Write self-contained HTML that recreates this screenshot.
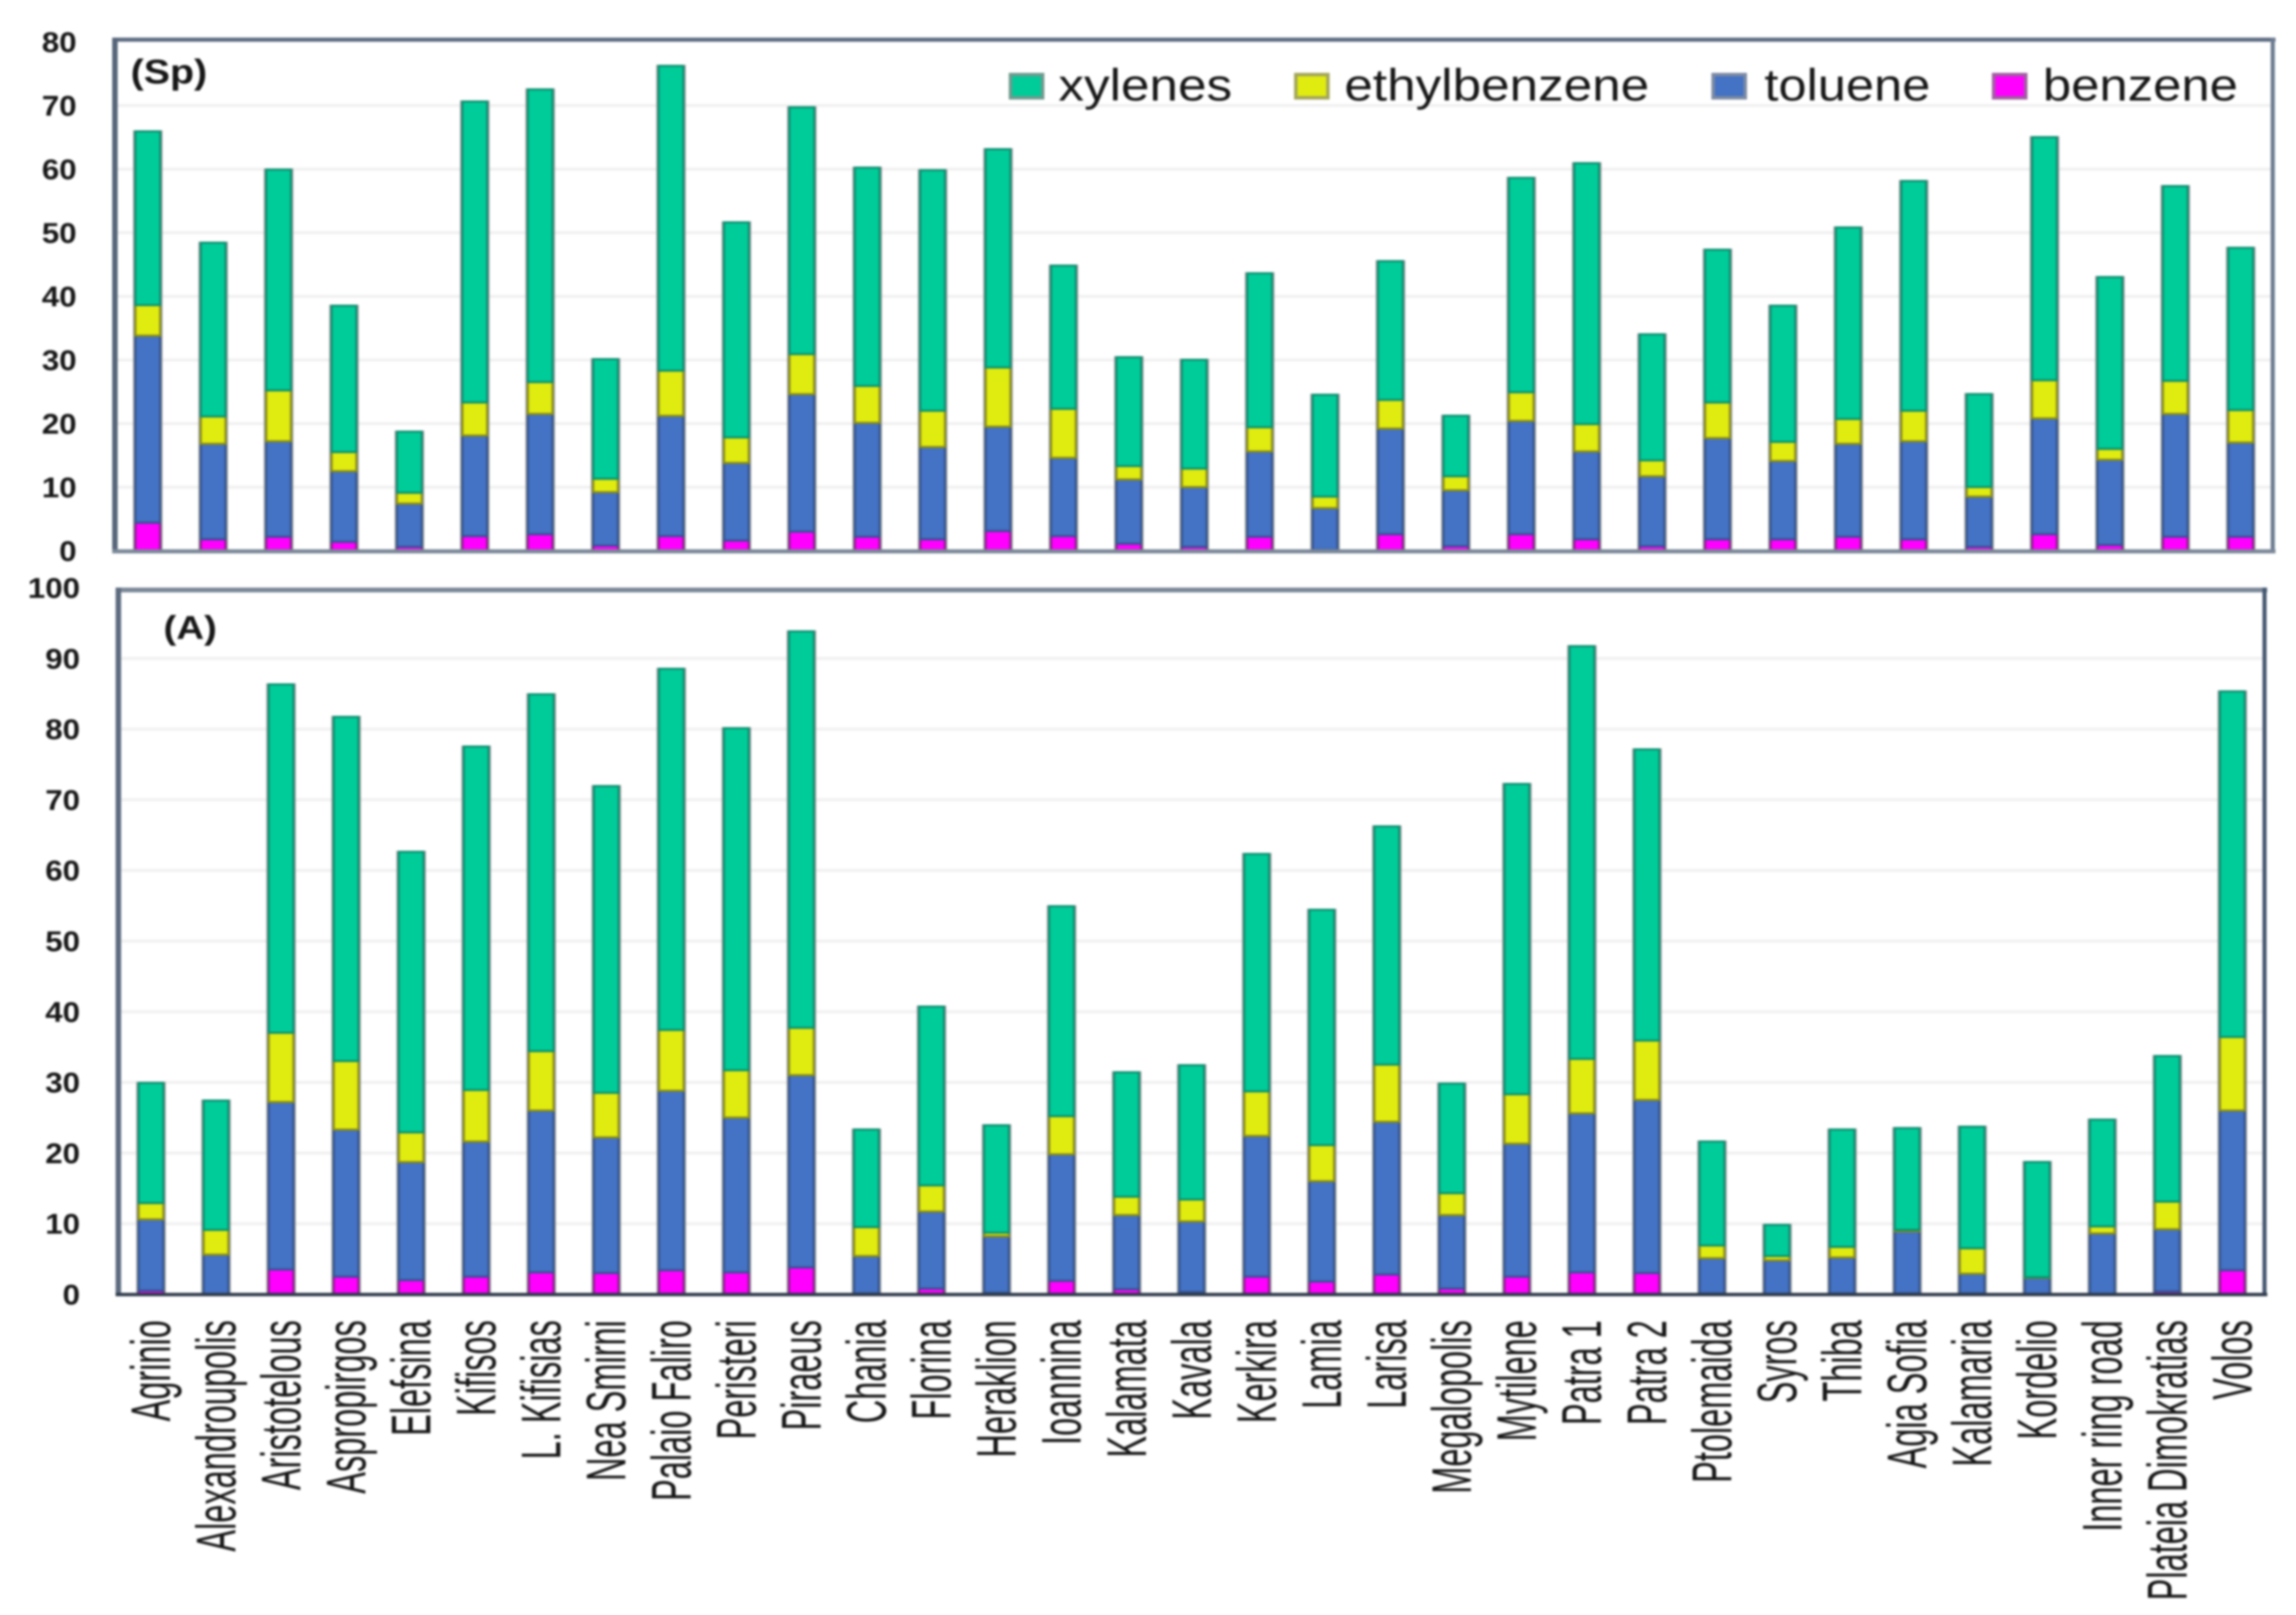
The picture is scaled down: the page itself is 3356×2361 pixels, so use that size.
<!DOCTYPE html>
<html lang="en">
<head>
<meta charset="utf-8">
<title>Benzene, toluene, ethylbenzene and xylenes by site</title>
<style>
html,body{margin:0;padding:0;background:#fff;width:3356px;height:2361px;overflow:hidden}
svg{display:block;filter:blur(1.5px)}
text{font-family:"Liberation Sans",Arial,sans-serif;fill:#161616}
</style>
</head>
<body>
<svg id="chart" xmlns="http://www.w3.org/2000/svg" width="3356" height="2361" viewBox="0 0 3356 2361">
  <rect x="0" y="0" width="3356" height="2361" fill="#ffffff"/>
  <g id="sp-panel"></g>
  <g id="a-panel"></g>
  <g id="cat-labels"></g>
  <text transform="translate(191,122) scale(1.15,1)" font-size="50" font-weight="bold">(Sp)</text>
  <text transform="translate(239,934) scale(1.17,1)" font-size="48" font-weight="bold">(A)</text>
  <g>
    <g>
      <rect x="1477" y="109" width="47" height="34" fill="#00cc99" stroke="#6f9a8e" stroke-width="5"/>
      <text transform="translate(1547,147) scale(1.135,1)" font-size="66">xylenes</text>
    </g>
    <g>
      <rect x="1894" y="109" width="47" height="34" fill="#e0eb10" stroke="#a3a55a" stroke-width="5"/>
      <text transform="translate(1965,147) scale(1.135,1)" font-size="66">ethylbenzene</text>
    </g>
    <g>
      <rect x="2504" y="109" width="47" height="34" fill="#4472c4" stroke="#7c8aa3" stroke-width="5"/>
      <text transform="translate(2579,147) scale(1.12,1)" font-size="66">toluene</text>
    </g>
    <g>
      <rect x="2914" y="109" width="47" height="34" fill="#ff00ff" stroke="#a05fa0" stroke-width="5"/>
      <text transform="translate(2986,147) scale(1.126,1)" font-size="66">benzene</text>
    </g>
  </g>
</svg>
<script>
const categories = ["Agrinio","Alexandroupolis","Aristotelous","Aspropirgos","Elefsina","Kifisos","L. Kifisias","Nea Smirni","Palaio Faliro","Peristeri","Piraeus","Chania","Florina","Heraklion","Ioannina","Kalamata","Kavala","Kerkira","Lamia","Larisa","Megalopolis","Mytilene","Patra 1","Patra 2","Ptolemaida","Syros","Thiba","Agia Sofia","Kalamaria","Kordelio","Inner ring road","Plateia Dimokratias","Volos"];
const spTicks = [0,10,20,30,40,50,60,70,80];
const aTicks = [0,10,20,30,40,50,60,70,80,90,100];
const spBenzene = [4.4,1.8,2.2,1.4,0.6,2.3,2.6,0.8,2.3,1.6,3.0,2.2,1.8,3.1,2.3,1.1,0.6,2.2,0.1,2.6,0.7,2.6,1.8,0.7,1.8,1.8,2.2,1.8,0.6,2.6,0.9,2.2,2.2];
const spToluene = [29.4,15.0,15.0,11.1,6.8,15.8,18.9,8.4,18.9,12.2,21.6,17.9,14.5,16.4,12.3,10.1,9.4,13.4,6.6,16.6,8.8,17.8,13.8,11.0,15.9,12.3,14.6,15.4,7.9,18.2,13.4,19.3,14.8];
const spEthylbenzene = [4.8,4.3,8.0,3.0,1.7,5.2,5.0,2.1,7.1,4.0,6.3,5.8,5.7,9.3,7.7,2.1,2.9,3.8,1.8,4.5,2.2,4.5,4.3,2.5,5.6,3.0,3.9,4.8,1.5,6.0,1.7,5.2,5.1];
const spXylenes = [27.3,27.3,34.7,23.0,9.6,47.3,46.0,18.8,47.9,33.8,38.8,34.3,37.8,34.3,22.5,17.1,17.1,24.2,16.0,21.8,9.5,33.7,41.0,19.8,24.0,21.4,30.1,36.1,14.6,38.2,27.0,30.6,25.5];
const aBenzene = [0.5,0,3.5,2.5,2.0,2.5,3.1,3.0,3.4,3.1,3.8,0.1,0.8,0.2,1.9,0.7,0.3,2.5,1.8,2.8,0.8,2.5,3.1,3.0,0.1,0.05,0.1,0.1,0.1,0,0,0.4,3.4];
const aToluene = [10.1,5.6,23.7,20.8,16.7,19.1,22.9,19.2,25.4,21.9,27.2,5.3,10.9,8.0,17.9,10.5,10.0,19.9,14.2,21.6,10.4,18.8,22.5,24.5,5.0,4.75,5.1,8.8,2.8,2.3,8.6,8.8,22.6];
const aEthylbenzene = [2.3,3.5,9.8,9.7,4.2,7.3,8.4,6.3,8.6,6.7,6.7,4.1,3.7,0.5,5.4,2.6,3.1,6.3,5.1,8.1,3.1,7.0,7.7,8.4,1.8,0.6,1.5,0.2,3.6,0.1,1.0,3.9,10.4];
const aXylenes = [17.0,18.3,49.3,48.7,39.7,48.6,50.5,43.4,51.1,48.4,56.1,13.8,25.3,15.2,29.7,17.6,19.0,33.6,33.3,33.7,15.5,43.9,58.4,41.2,14.7,4.4,16.6,14.4,17.2,16.3,15.1,20.6,48.9];
const seriesNames = ["benzene","toluene","ethylbenzene","xylenes"];
const seriesFills = ["#ff00ff","#4472c4","#e0eb10","#00cc99"];
const seriesEdges = ["#8f1a8f","#33538f","#8b8e12","#0a8f70"];

const NS = "http://www.w3.org/2000/svg";
function spX(i){ return 216 + i * 95.6; }
function spY(v){ return 805 - v * 9.3; }
function aX(i){ return 220.7 + i * 95.07; }
function aY(v){ return 1892 - v * 10.33; }

function rect(parent, x, y, w, h, fill){
  const r = document.createElementNS(NS, "rect");
  r.setAttribute("x", x);
  r.setAttribute("y", y);
  r.setAttribute("width", w);
  r.setAttribute("height", Math.max(0, h));
  r.setAttribute("fill", fill);
  parent.appendChild(r);
  return r;
}

function drawPanel(parent, panel, xFn, yFn, ticks, series, frame){
  // gridlines
  ticks.forEach(function(t){
    if (t === 0 || t === ticks[ticks.length - 1]) return;
    const g = rect(parent, frame.left, yFn(t) - 2, frame.right - frame.left, 4.5, "#f1f1f1");
    
    
  });
  // tick labels
  ticks.forEach(function(t){
    const lab = document.createElementNS(NS, "text");
    lab.setAttribute("transform", "translate(" + frame.tickX + "," + (yFn(t) + 15) + ") scale(1.09,1)");
    lab.setAttribute("text-anchor", "end");
    lab.setAttribute("font-size", "42");
    lab.setAttribute("font-weight", "bold");
    lab.textContent = String(t);
    
    
    parent.appendChild(lab);
  });
  // bars
  categories.forEach(function(cat, i){
    const cx = xFn(i);
    let total = 0;
    series.forEach(function(s){ total += s[i]; });
    const back = rect(parent, cx - 21.5, yFn(total) - 1.5, 43, yFn(0) - yFn(total) + 1.5, "#8e9494");
    
    
    let cum = 0;
    series.forEach(function(s, k){
      const y0 = yFn(cum);
      const y1 = yFn(cum + s[i]);
      cum += s[i];
      const seg = rect(parent, cx - 18, y1, 36, y0 - y1, seriesFills[k]);
      seg.setAttribute("stroke", seriesEdges[k]);
      seg.setAttribute("stroke-width", "3");
      
      
    });
  });
  // frame
  const top = rect(parent, frame.left - 4, frame.top - 3, frame.right - frame.left + 8, frame.topW, frame.topColor);
  
  
  const left = rect(parent, frame.left - 4, frame.top - 3, 8, frame.bottom - frame.top + 6, frame.leftColor);
  
  
  const right = rect(parent, frame.right - 3, frame.top - 3, 6, frame.bottom - frame.top + 6, frame.rightColor);
  
  
  const bottom = rect(parent, frame.left - 4, frame.bottom - 2, frame.right - frame.left + 8, frame.bottomW, frame.bottomColor);
  
  
}

drawPanel(document.getElementById("sp-panel"), "spring", spX, spY, spTicks,
  [spBenzene, spToluene, spEthylbenzene, spXylenes],
  {left:168, right:3322, top:58, bottom:805, tickX:112, topW:6, bottomW:6,
   topColor:"#5d6c82", leftColor:"#56657a", rightColor:"#6b7a90", bottomColor:"#7b8898"});

drawPanel(document.getElementById("a-panel"), "autumn", aX, aY, aTicks,
  [aBenzene, aToluene, aEthylbenzene, aXylenes],
  {left:173, right:3310, top:862, bottom:1892, tickX:117, topW:7, bottomW:5,
   topColor:"#7b8898", leftColor:"#5c6b7e", rightColor:"#44566f", bottomColor:"#2f3b4c"});

const catGroup = document.getElementById("cat-labels");
categories.forEach(function(cat, i){
  const t = document.createElementNS(NS, "text");
  t.setAttribute("transform", "translate(" + (aX(i) + 28) + ",1930) rotate(-90) scale(0.58,1)");
  t.setAttribute("text-anchor", "end");
  t.setAttribute("font-size", "82");
  t.textContent = cat;
  
  
  catGroup.appendChild(t);
});
</script>
</body>
</html>
